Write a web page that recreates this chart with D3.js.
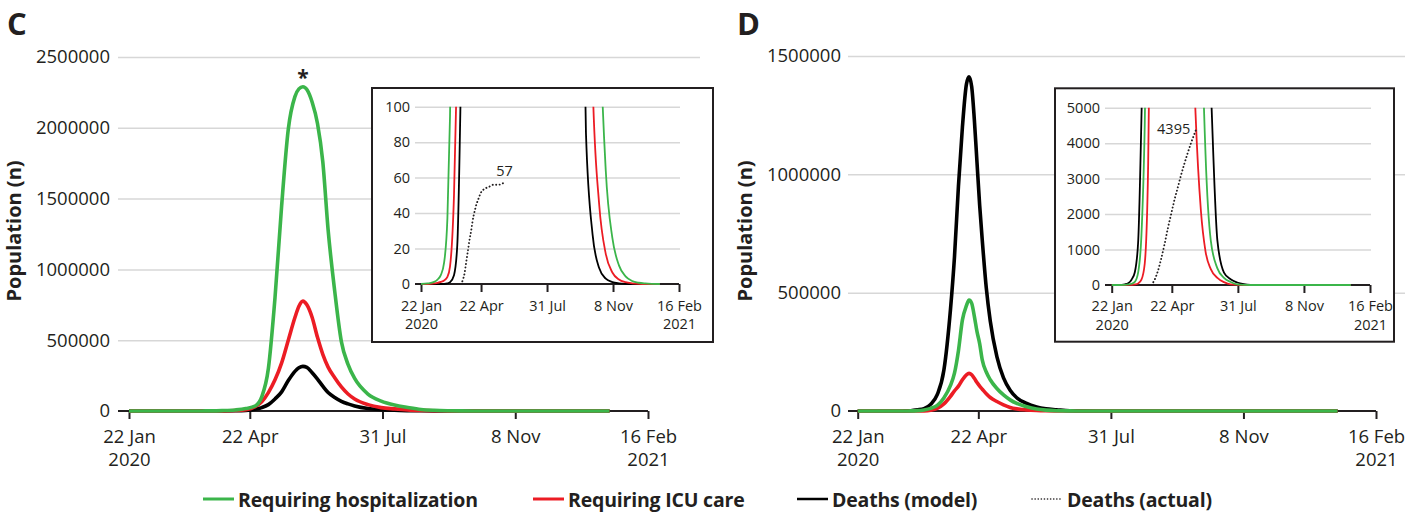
<!DOCTYPE html>
<html>
<head>
<meta charset="utf-8">
<script src="https://cdn.jsdelivr.net/npm/d3@7"></script>
<style>
  body { margin: 0; background: #ffffff; }
  svg text { font-family: "Open Sans", "DejaVu Sans", sans-serif; fill: #231f20; }
</style>
</head>
<body>
<svg id="chart" width="1419" height="513"></svg>
<script>
// ---- shared axis definitions ----
const startDate = "2020-01-22";
const tickDates = ["2020-01-22", "2020-04-22", "2020-07-31", "2020-11-08", "2021-02-16"];
const tickLine1 = ["22 Jan", "22 Apr", "31 Jul", "8 Nov", "16 Feb"];
const tickLine2 = ["2020", "", "", "", "2021"];

const yTicksC = [0, 500000, 1000000, 1500000, 2000000, 2500000];
const yTicksD = [0, 500000, 1000000, 1500000];
const yTicksInsetC = [0, 20, 40, 60, 80, 100];
const yTicksInsetD = [0, 1000, 2000, 3000, 4000, 5000];

// ---- panel C: model output (days since 22 Jan 2020) ----
const dayC = [0, 10, 20, 25, 30, 35, 40, 44, 50, 55, 60, 70, 80, 88, 95, 100, 105, 110, 115, 120,
  125, 128, 131, 134, 138, 142, 146, 150, 155, 160, 165, 170, 180, 190, 200, 210, 220, 230, 240, 250,
  260, 270, 280, 290, 300, 310, 320, 330, 340, 350, 362];
const hospC = [0, 0.3, 1.2, 2.5, 5, 12, 37, 95, 260, 500, 900, 2800, 7500, 17000, 35000, 100000, 300000, 800000, 1450000, 1990000,
  2220000, 2275000, 2290000, 2270000, 2180000, 2030000, 1760000, 1280000, 845000, 490000, 330000, 230000, 120000, 70000, 42000, 25000, 11000, 5000, 2200, 950,
  400, 165, 64, 26, 10.5, 4.3, 1.7, 0.7, 0.3, 0.1, 0];
const icuC = [0, 0, 0.3, 0.6, 1.2, 2, 4, 10, 50, 130, 230, 800, 3000, 9000, 30000, 65000, 130000, 220000, 340000, 500000,
  660000, 740000, 776000, 750000, 660000, 520000, 400000, 310000, 235000, 170000, 120000, 85000, 45000, 24000, 15000, 8000, 4200, 2000, 900, 360,
  115, 45, 17, 6.5, 2.5, 1, 0.4, 0.1, 0, 0, 0];
const deathC = [0, 0, 0, 0, 0, 0, 0.3, 1, 5, 22, 105, 400, 1300, 4000, 12000, 24000, 45000, 85000, 135000, 215000,
  280000, 305000, 315000, 308000, 270000, 225000, 175000, 130000, 95000, 68000, 50000, 36000, 18000, 9500, 4800, 2500, 1300, 700, 300, 85,
  28, 9, 3, 1.1, 0.4, 0.1, 0, 0, 0, 0, 0];
// reported deaths (cumulative)
const actualDayC = [44, 52, 60, 62, 64, 66, 68, 70, 72, 74, 76, 78, 80, 82, 84, 86, 88, 90, 94, 98, 104, 110, 118, 125];
const actualC = [0, 0, 0, 1, 3, 6, 11, 16, 21, 26, 30, 35, 39, 42, 45, 47, 49, 51, 53, 54, 55, 56, 56, 57];

// ---- panel D: model output ----
const dayD = [0, 10, 20, 25, 30, 35, 40, 45, 50, 55, 60, 65, 70, 73, 76, 79, 82, 84, 86, 88,
  90, 92, 94, 97, 100, 105, 110, 115, 120, 127, 135, 142, 150, 160, 170, 180, 190, 200, 210, 220,
  240, 260, 280, 300, 320, 340, 362];
const hospD = [0, 0.5, 5, 15, 35, 90, 350, 1400, 4500, 11000, 24000, 55000, 108000, 160000, 255000, 385000, 445000, 469000, 455000, 400000,
  335000, 285000, 215000, 165000, 132000, 95000, 68000, 47000, 32000, 19000, 8500, 3700, 1250, 470, 200, 85, 15, 3, 0.5, 0,
  0, 0, 0, 0, 0, 0, 0];
const icuD = [0, 0, 0.5, 1.5, 5, 15, 45, 150, 600, 3200, 11000, 30000, 62000, 85000, 105000, 132000, 153000, 159000, 153000, 138000,
  120000, 105000, 92000, 73000, 57000, 40000, 26000, 15000, 9000, 4800, 2100, 950, 450, 200, 80, 15, 2, 0, 0, 0,
  0, 0, 0, 0, 0, 0, 0];
const deathD = [0, 2, 20, 50, 150, 360, 1200, 4700, 10000, 28000, 69000, 172000, 430000, 650000, 950000, 1200000, 1380000, 1412000, 1370000, 1230000,
  1050000, 870000, 720000, 520000, 380000, 230000, 140000, 88000, 56000, 33000, 17000, 9500, 5600, 1250, 350, 160, 70, 25, 5, 1,
  0, 0, 0, 0, 0, 0, 0];
const actualDayD = [60, 65, 70, 75, 80, 85, 90, 95, 100, 105, 110, 115, 120, 125, 128];
const actualD = [0, 150, 400, 750, 1150, 1600, 2000, 2400, 2750, 3100, 3420, 3720, 4000, 4250, 4395];

// ---- legend ----
const legendLabels = ["Requiring hospitalization", "Requiring ICU care", "Deaths (model)", "Deaths (actual)"];

const COLORS = { hosp: "#3bb54a", icu: "#ec1c24", death: "#000000", actual: "#231f20", ink: "#231f20", grid: "#d7d7d7" };

const parse = d3.utcParse("%Y-%m-%d");
const t0 = parse(startDate).getTime();
const toDate = d => new Date(t0 + d * 864e5);

const svg = d3.select("#chart");

function seriesPoints(days, values) {
  return days.map((d, i) => ({ date: toDate(d), v: values[i] }));
}

function drawPlot(c) {
  const g = svg.append("g");
  const x = d3.scaleUtc()
    .domain([parse(tickDates[0]), parse(tickDates[tickDates.length - 1])])
    .range([c.x0, c.x1]);
  const y = d3.scaleLinear().domain([0, c.yMax]).range([c.yBottom, c.yTop]);

  if (c.box) {
    g.append("rect").attr("x", c.box[0]).attr("y", c.box[1]).attr("width", c.box[2]).attr("height", c.box[3])
      .attr("fill", "#fff").attr("stroke", COLORS.ink).attr("stroke-width", 2);
  }

  // horizontal gridlines
  const grid = g.append("g").attr("transform", `translate(${c.gridLeft},0)`)
    .call(d3.axisLeft(y).tickValues(c.yTicks.filter(v => v > 0)).tickSize(-(c.gridRight - c.gridLeft)).tickFormat(""));
  grid.select(".domain").remove();
  grid.selectAll(".tick text").remove();
  grid.selectAll(".tick line").attr("stroke", COLORS.grid).attr("stroke-width", 1.5);

  // y labels
  const yAx = g.append("g").attr("transform", `translate(${c.labelRight},0)`)
    .call(d3.axisLeft(y).tickValues(c.yTicks).tickSize(0).tickPadding(0).tickFormat(d3.format("d")));
  yAx.select(".domain").remove();
  yAx.selectAll(".tick line").remove();
  yAx.selectAll(".tick text").attr("font-size", c.font).attr("font-family", null).attr("fill", COLORS.ink);

  // x axis: baseline, ticks and two-line date labels
  g.append("line").attr("x1", c.gridLeft).attr("x2", c.x1).attr("y1", c.yBottom).attr("y2", c.yBottom)
    .attr("stroke", COLORS.ink).attr("stroke-width", 2);
  const xAx = g.append("g").attr("transform", `translate(0,${c.yBottom})`)
    .call(d3.axisBottom(x).tickValues(tickDates.map(parse)).tickSize(c.tickLen).tickFormat(""));
  xAx.select(".domain").remove();
  xAx.selectAll(".tick line").attr("stroke", COLORS.ink).attr("stroke-width", 2);
  xAx.selectAll(".tick text").remove();
  xAx.selectAll(".tick").each(function (d, i) {
    const tk = d3.select(this);
    tk.append("text").attr("x", 0).attr("y", c.label1 - c.yBottom).attr("text-anchor", "middle")
      .attr("font-size", c.font).attr("font-family", null).attr("fill", COLORS.ink).text(tickLine1[i]);
    if (tickLine2[i]) {
      tk.append("text").attr("x", 0).attr("y", c.label2 - c.yBottom).attr("text-anchor", "middle")
        .attr("font-size", c.font).attr("font-family", null).attr("fill", COLORS.ink).text(tickLine2[i]);
    }
  });

  // curves
  const line = d3.line().x(p => x(p.date)).y(p => y(p.v)).curve(d3.curveMonotoneX);
  const plotG = g.append("g");
  if (c.clip) {
    const id = c.clip;
    g.append("clipPath").attr("id", id).append("rect")
      .attr("x", c.gridLeft - 5).attr("y", c.yTop)
      .attr("width", c.gridRight - c.gridLeft + 10).attr("height", c.yBottom - c.yTop + 10);
    plotG.attr("clip-path", `url(#${id})`);
  }
  c.series.forEach(s => {
    plotG.append("path").datum(seriesPoints(c.days, s.values))
      .attr("d", line).attr("fill", "none").attr("stroke", s.color)
      .attr("stroke-width", c.lineW).attr("stroke-linejoin", "round").attr("stroke-linecap", "butt");
  });

  if (c.actual) {
    const pts = seriesPoints(c.actual.days, c.actual.values);
    plotG.append("path").datum(pts).attr("d", line)
      .attr("fill", "none").attr("stroke", COLORS.actual).attr("stroke-width", 1.9)
      .attr("stroke-linecap", "round").attr("stroke-dasharray", "0.1,3.4");
    const last = pts[pts.length - 1];
    g.append("text").attr("x", x(last.date) + c.actual.dx).attr("y", y(last.v) + c.actual.dy)
      .attr("text-anchor", c.actual.anchor).attr("font-size", c.font).text(d3.format("d")(last.v));
  }

  if (c.star) {
    const vals = c.series[c.series.length - 1].values;
    const iMax = d3.maxIndex(vals);
    g.append("text").attr("x", x(toDate(c.days[iMax]))).attr("y", y(vals[iMax]) - 2)
      .attr("text-anchor", "middle").attr("font-size", 21).attr("font-weight", 700).text("*");
  }
}

function panelTitle(letter, xPos, yTitleX) {
  svg.append("text").attr("x", xPos).attr("y", 35).attr("font-size", 31).attr("font-weight", 700).text(letter);
  svg.append("text").attr("transform", `translate(${yTitleX},231) rotate(-90)`)
    .attr("text-anchor", "middle").attr("font-size", 20).attr("font-weight", 700).text("Population (n)");
}

const seriesOf = (h, i, d) => [{ values: d, color: COLORS.death }, { values: i, color: COLORS.icu }, { values: h, color: COLORS.hosp }];

// ---------- panel C ----------
panelTitle("C", 7, 21);
drawPlot({
  x0: 129, x1: 648, yTop: 57, yBottom: 411, yMax: 2500000, yTicks: yTicksC,
  gridLeft: 118, gridRight: 700, labelRight: 110, font: 18.5, tickLen: 8, lineW: 3.6,
  label1: 443, label2: 466, days: dayC, star: true,
  series: seriesOf(hospC, icuC, deathC)
});
drawPlot({
  box: [372, 88, 341, 254],
  x0: 421, x1: 679, yTop: 106.7, yBottom: 284, yMax: 100, yTicks: yTicksInsetC,
  gridLeft: 415, gridRight: 680, labelRight: 410, font: 14.5, tickLen: 8, lineW: 1.8,
  label1: 310.5, label2: 329, days: dayC, clip: "clipInsetC",
  series: seriesOf(hospC, icuC, deathC),
  actual: { days: actualDayC, values: actualC, dx: 1, dy: -7, anchor: "middle" }
});

// ---------- panel D ----------
panelTitle("D", 737, 752);
drawPlot({
  x0: 857.7, x1: 1376, yTop: 56, yBottom: 411, yMax: 1500000, yTicks: yTicksD,
  gridLeft: 848, gridRight: 1405, labelRight: 841, font: 18.5, tickLen: 8, lineW: 3.6,
  label1: 443, label2: 466, days: dayD,
  series: seriesOf(hospD, icuD, deathD)
});
drawPlot({
  box: [1055, 88.3, 339, 253.4],
  x0: 1111.7, x1: 1370, yTop: 107.7, yBottom: 285, yMax: 5000, yTicks: yTicksInsetD,
  gridLeft: 1105, gridRight: 1371, labelRight: 1100, font: 14.5, tickLen: 8, lineW: 1.8,
  label1: 311, label2: 329.5, days: dayD, clip: "clipInsetD",
  series: seriesOf(hospD, icuD, deathD),
  actual: { days: actualDayD, values: actualD, dx: -6, dy: 5, anchor: "end" }
});

// ---------- legend ----------
const legendStyles = [
  { color: COLORS.hosp, dash: null, width: 3 },
  { color: COLORS.icu, dash: null, width: 3 },
  { color: COLORS.death, dash: null, width: 2.5 },
  { color: COLORS.actual, dash: "0.1,3", width: 1.6 }
];
const legendX = [203, 533, 797, 1032];
const legend = svg.append("g");
legendLabels.forEach((lab, i) => {
  const st = legendStyles[i];
  legend.append("line").attr("x1", legendX[i]).attr("x2", legendX[i] + 31).attr("y1", 499).attr("y2", 499)
    .attr("stroke", st.color).attr("stroke-width", st.width)
    .attr("stroke-linecap", st.dash ? "round" : "butt").attr("stroke-dasharray", st.dash);
  legend.append("text").attr("x", legendX[i] + 35).attr("y", 506.5).attr("font-size", 19.5)
    .attr("letter-spacing", -0.2).attr("font-weight", 700).text(lab);
});
</script>
</body>
</html>
